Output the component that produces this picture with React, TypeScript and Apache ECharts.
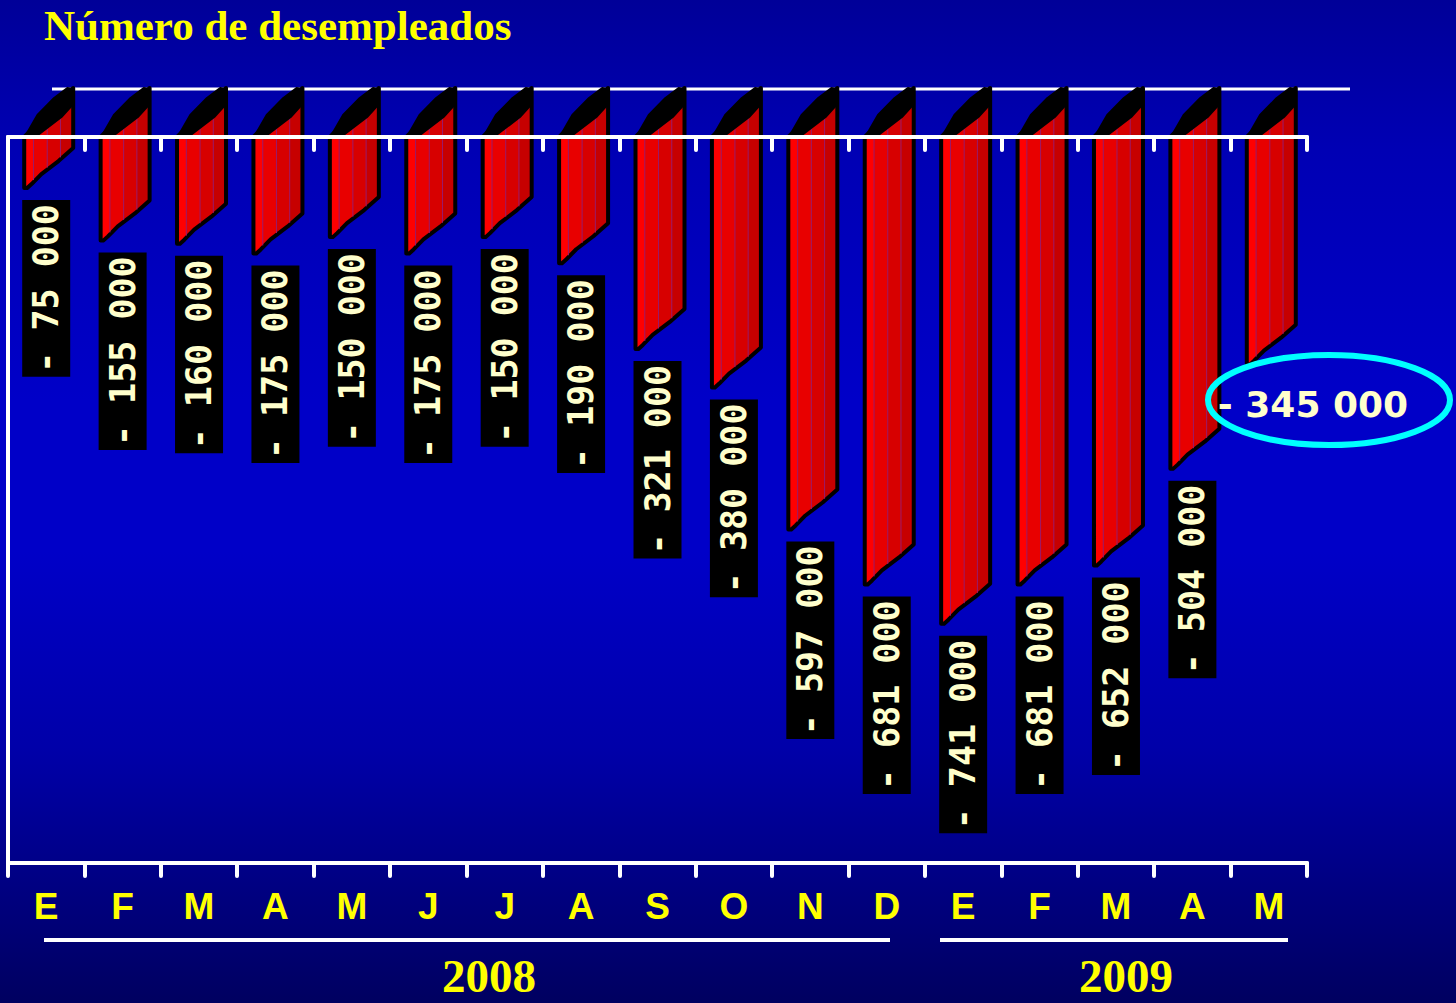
import React, { useEffect, useRef } from "react";
import * as echarts from "echarts";

// Monthly change in the number of unemployed, Jan 2008 – May 2009
const months = ["E", "F", "M", "A", "M", "J", "J", "A", "S", "O", "N", "D", "E", "F", "M", "A", "M"];
const changes = [
  -75000, -155000, -160000, -175000, -150000, -175000, -150000, -190000,
  -321000, -380000, -597000, -681000, -741000, -681000, -652000, -504000, -345000,
];
const years = ["2008", "2009"];
const titleText = "Número de desempleados";

function formatChange(v: number): string {
  const digits = Math.abs(v).toString().replace(/\B(?=(\d{3})+(?!\d))/g, " ");
  return (v < 0 ? "- " : "") + digits;
}

// bottom edge of a bar's face, as (fraction of width, vertical offset)
const bottomProfile: [number, number][] = [
  [0, 2], [0.06, 2], [0.15, -2], [0.35, -12], [0.7, -25], [1, -38],
];
const capOuter: [number, number][] = [[0, 1], [0.27, -22], [0.61, -39], [0.88, -49], [1, -48]];
const capInner: [number, number][] = [[1, -33], [0.76, -20], [0.2, 1]];
const facetStops = [0.19, 0.47, 0.74];

function bottomAt(t: number): number {
  for (let k = 1; k < bottomProfile.length; k++) {
    const [ta, da] = bottomProfile[k - 1];
    const [tb, db] = bottomProfile[k];
    if (t <= tb) return da + ((t - ta) / (tb - ta)) * (db - da);
  }
  return bottomProfile[bottomProfile.length - 1][1];
}

export default function App() {
  const ref = useRef<HTMLDivElement>(null);

  useEffect(() => {
    if (!ref.current) return;
    const chart = echarts.init(ref.current, null, { renderer: "svg" });
    const last = changes.length - 1;

    const faceFill = new echarts.graphic.LinearGradient(0, 0, 1, 0, [
      { offset: 0, color: "#ff0000" },
      { offset: 0.19, color: "#ff0000" },
      { offset: 0.19, color: "#e80000" },
      { offset: 0.47, color: "#e80000" },
      { offset: 0.47, color: "#d70000" },
      { offset: 0.74, color: "#d70000" },
      { offset: 0.74, color: "#c60000" },
      { offset: 1, color: "#c60000" },
    ]);

    const renderItem = (params: any, api: any) => {
      const i = api.value(0) as number;
      const v = api.value(1) as number;
      const base = api.coord([i, 0]);
      const end = api.coord([i, v]);
      const cx = base[0];
      const y0 = base[1];
      const yv = end[1];
      const w = 49;
      const depth = 49;
      const x0 = cx - 22;
      const x1 = x0 + w;

      const face: number[][] = [[x0, y0], [x1, y0 - depth]];
      for (let k = bottomProfile.length - 1; k >= 0; k--) {
        const [t, d] = bottomProfile[k];
        face.push([x0 + t * w, yv + d]);
      }

      const children: any[] = [
        {
          type: "polygon",
          shape: { points: face },
          style: { fill: faceFill, stroke: "#000", lineWidth: 4, lineJoin: "round" },
        },
      ];
      facetStops.forEach((t) => {
        children.push({
          type: "line",
          shape: { x1: x0 + t * w, y1: y0 - t * depth, x2: x0 + t * w, y2: yv + bottomAt(t) - 2 },
          style: { stroke: "#9a1a6a", lineWidth: 1 },
        });
      });
      children.push({
        type: "polygon",
        shape: {
          points: [...capOuter, ...capInner].map(([t, d]) => [x0 + t * w, y0 + d]),
        },
        style: { fill: "#000", stroke: "#000", lineWidth: 2, lineJoin: "round" },
      });

      if (i !== last) {
        children.push({
          type: "text",
          x: cx,
          y: yv + 14,
          rotation: Math.PI / 2,
          style: {
            text: formatChange(v),
            fill: "#ffffcc",
            font: 'bold 35px "DejaVu Sans Mono", monospace',
            align: "right",
            verticalAlign: "middle",
            backgroundColor: "#000",
            padding: [8, 4],
            lineHeight: 32,
          },
        });
      }
      return { type: "group", children };
    };

    const white = "#ffffff";

    chart.setOption({
      animation: false,
      backgroundColor: "transparent",
      grid: { left: 8, right: 149, top: 137, bottom: 140, containLabel: false },
      xAxis: [
        {
          type: "category",
          data: months,
          position: "top",
          z: 10,
          axisLine: { onZero: false, lineStyle: { color: white, width: 4 } },
          axisTick: { show: true, inside: true, length: 13, lineStyle: { color: white, width: 4, cap: "round" } },
          axisLabel: { show: false },
          splitLine: { show: false },
        },
        {
          type: "category",
          data: months,
          position: "bottom",
          z: 10,
          axisLine: { onZero: false, lineStyle: { color: white, width: 4 } },
          axisTick: { show: true, length: 13, lineStyle: { color: white, width: 4, cap: "round" } },
          axisLabel: {
            color: "#ffff00",
            fontSize: 37,
            fontWeight: "bold",
            fontFamily: '"Liberation Sans", Arial, sans-serif',
            margin: 25,
          },
          splitLine: { show: false },
        },
      ],
      yAxis: {
        type: "value",
        min: -1110000,
        max: 0,
        axisLine: { show: true, onZero: false, lineStyle: { color: white, width: 4 } },
        axisTick: { show: false },
        axisLabel: { show: false },
        splitLine: { show: false },
      },
      series: [
        {
          type: "custom",
          xAxisIndex: 0,
          yAxisIndex: 0,
          renderItem,
          encode: { x: 0, y: 1 },
          data: changes.map((v, i) => [i, v]),
          z: 5,
        },
      ],
      graphic: [
        {
          type: "line",
          z: 0,
          shape: { x1: 52, y1: 89, x2: 1350, y2: 89 },
          style: { stroke: white, lineWidth: 3 },
        },
        {
          type: "text",
          x: 44,
          y: 25,
          style: {
            text: titleText,
            fill: "#ffff00",
            font: 'bold 43px "Liberation Serif", "Times New Roman", serif',
            align: "left",
            verticalAlign: "middle",
          },
        },
        {
          type: "line",
          shape: { x1: 44, y1: 940, x2: 890, y2: 940 },
          style: { stroke: white, lineWidth: 4 },
        },
        {
          type: "line",
          shape: { x1: 940, y1: 940, x2: 1288, y2: 940 },
          style: { stroke: white, lineWidth: 4 },
        },
        {
          type: "text",
          x: 489,
          y: 976,
          style: {
            text: years[0],
            fill: "#ffff00",
            font: 'bold 47px "Liberation Serif", "Times New Roman", serif',
            align: "center",
            verticalAlign: "middle",
            lineHeight: 40,
          },
        },
        {
          type: "text",
          x: 1126,
          y: 976,
          style: {
            text: years[1],
            fill: "#ffff00",
            font: 'bold 47px "Liberation Serif", "Times New Roman", serif',
            align: "center",
            verticalAlign: "middle",
            lineHeight: 40,
          },
        },
        {
          type: "ellipse",
          z: 100,
          shape: { cx: 1329, cy: 400, rx: 121, ry: 45 },
          style: { fill: "none", stroke: "#00ffff", lineWidth: 6 },
        },
        {
          type: "text",
          z: 101,
          x: 1313,
          y: 404,
          style: {
            text: formatChange(changes[last]),
            fill: "#ffffcc",
            font: 'bold 36px "DejaVu Sans", sans-serif',
            align: "center",
            verticalAlign: "middle",
          },
        },
      ],
    });

    return () => chart.dispose();
  }, []);

  return (
    <div
      ref={ref}
      style={{
        position: "fixed",
        left: 0,
        top: 0,
        width: 1456,
        height: 1003,
        background:
          "linear-gradient(to bottom, #000098 0%, #0000b4 15%, #0000c8 40%, #0000c8 55%, #0000a8 75%, #000060 100%)",
      }}
    />
  );
}
